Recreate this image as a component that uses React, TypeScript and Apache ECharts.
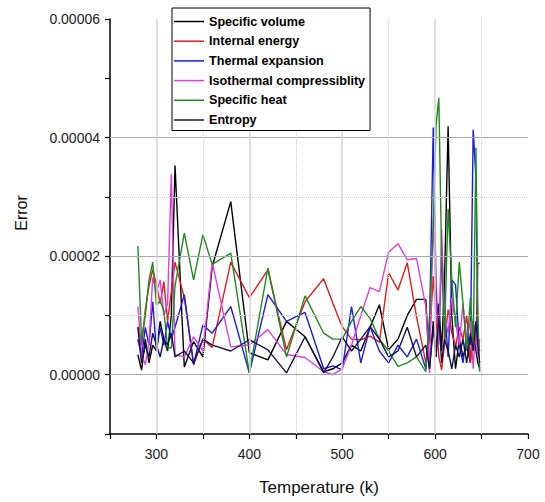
import React, { useEffect, useRef } from "react";
import * as echarts from "echarts";

// Temperature (K)
const temps = [280, 284, 288, 292, 296, 300, 304, 308, 312, 316, 320, 330, 340, 350, 360, 380, 400, 420, 440, 460, 480, 490, 500, 510, 520, 530, 540, 550, 560, 570, 580, 590, 594, 598, 601, 604, 607, 610, 614, 618, 622, 626, 630, 634, 638, 641, 644, 646, 648];

// Errors in units of 1e-5
const specificVolume = [0.34, 0.08, 0.6, 0.2, 0.5, 0.4, 0.9, 0.6, 0.4, 1.0, 3.53, 0.13, 0.56, 0.3, 1.82, 2.92, 0.37, 0.25, 0.9, 0.64, 0.05, 0.1, 0.2, 0.5, 0.4, 0.8, 1.18, 0.42, 0.6, 1.0, 1.27, 1.27, 0.1, 0.9, 0.3, 1.2, 0.4, 1.5, 4.19, 1.0, 0.1, 0.6, 0.3, 0.5, 0.2, 0.9, 0.4, 0.2, 0.1];
const internalEnergy = [0.81, 0.5, 1.1, 1.5, 1.77, 1.52, 1.2, 1.57, 0.9, 1.4, 1.9, 1.3, 0.17, 0.6, 0.46, 1.9, 1.3, 1.77, 0.42, 1.23, 1.62, 1.2, 0.81, 0.6, 0.59, 0.65, 0.55, 1.72, 1.43, 1.89, 0.98, 0.2, 0.6, 1.66, 0.98, 0.3, 0.08, 0.5, 1.1, 0.7, 0.48, 0.8, 0.6, 1.0, 0.2, 0.9, 0.5, 1.88, 1.88];
const thermalExpansion = [0.6, 0.3, 0.8, 0.5, 1.23, 0.4, 0.8, 0.5, 0.9, 0.6, 0.8, 1.35, 0.17, 0.84, 0.7, 1.15, 0.03, 1.35, 0.9, 1.05, 0.1, 0.15, 0.08, 1.15, 0.2, 0.81, 0.4, 0.2, 0.5, 0.3, 0.6, 0.1, 0.8, 4.17, 1.5, 0.6, 2.0, 1.2, 0.3, 1.6, 1.52, 0.5, 0.2, 0.7, 0.5, 4.13, 3.3, 0.6, 0.4];
const isothermalCompressibility = [1.15, 0.34, 0.17, 0.54, 1.64, 1.4, 1.6, 1.0, 1.2, 3.38, 0.34, 0.3, 0.64, 0.4, 1.9, 0.47, 0.5, 0.76, 0.34, 0.29, 0.05, 0.0, 0.1, 0.5, 1.0, 1.47, 1.4, 2.07, 2.21, 1.94, 1.96, 1.15, 0.03, 2.67, 1.2, 0.5, 2.45, 1.0, 0.7, 1.3, 0.9, 0.5, 1.2, 0.6, 0.9, 0.1, 0.9, 0.3, 0.6];
const specificHeat = [2.17, 0.56, 1.0, 1.6, 1.9, 1.18, 1.25, 1.07, 0.46, 0.45, 1.5, 2.39, 1.6, 2.36, 1.86, 2.05, 0.03, 1.8, 0.3, 1.33, 0.7, 0.6, 0.6, 0.9, 1.15, 0.95, 0.6, 0.4, 0.14, 0.2, 0.3, 0.05, 1.0, 2.5, 4.2, 4.67, 2.0, 0.6, 2.8, 1.6, 0.8, 1.9, 1.2, 0.4, 1.3, 0.5, 3.83, 1.0, 0.05];
const entropy = [0.8, 0.2, 0.5, 0.3, 0.7, 0.5, 0.3, 0.6, 0.5, 0.7, 0.3, 0.4, 0.2, 0.6, 0.5, 0.4, 0.59, 0.42, 0.03, 0.64, 0.03, 0.3, 0.64, 0.4, 0.6, 0.81, 0.6, 0.3, 0.4, 0.8, 0.3, 0.5, 0.1, 0.8, 0.3, 1.0, 0.2, 0.6, 0.4, 0.1, 0.5, 0.3, 0.6, 0.2, 0.7, 0.4, 0.9, 0.5, 0.2];

const seriesNames = ["Specific volume", "Internal energy", "Thermal expansion", "Isothermal compressiblity", "Specific heat", "Entropy"];
const seriesValues = [specificVolume, internalEnergy, thermalExpansion, isothermalCompressibility, specificHeat, entropy];
const seriesColors = ["#000000", "#e01c1c", "#1a1ae0", "#e03ce0", "#1e8a1e", "#14144a"];

const majorY = [0, 2, 4];
const minorY = [1, 3];
const majorX = [300, 400, 500, 600];
const minorX = [350, 450, 550, 650];

const FONT = "'Liberation Sans', Arial, Helvetica, sans-serif";

export default function App() {
  const ref = useRef<HTMLDivElement>(null);
  useEffect(() => {
    if (!ref.current) return;
    const chart = echarts.init(ref.current, null, { renderer: "svg" });
    const gridLines: any[] = [
      ...majorY.map((v) => ({ yAxis: v, lineStyle: { color: "#a8a8a8", width: 1, type: "solid" } })),
      ...minorY.map((v) => ({ yAxis: v, lineStyle: { color: "#cfcfcf", width: 1, type: "dotted" } })),
      ...majorX.map((v) => ({ xAxis: v, lineStyle: { color: "#d4d4d4", width: 1.5, type: "solid" } })),
      ...minorX.map((v) => ({ xAxis: v, lineStyle: { color: "#cfcfcf", width: 1, type: "dotted" } })),
    ];
    const option: any = {
      animation: false,
      grid: { left: 110, right: 17, top: 19, bottom: 68, containLabel: false },
      legend: {
        data: seriesNames,
        orient: "vertical",
        left: 172,
        top: 8,
        z: 10,
        padding: [6.5, 5, 3.5, 2],
        itemWidth: 30,
        itemHeight: 1.5,
        itemGap: 5.7,
        icon: "rect",
        backgroundColor: "#ffffff",
        borderColor: "#000000",
        borderWidth: 1,
        textStyle: { fontFamily: FONT, fontWeight: "bold", fontSize: 12.6, lineHeight: 14, color: "#000" },
      },
      xAxis: {
        type: "value",
        min: 250,
        max: 700,
        interval: 50,
        name: "Temperature (k)",
        nameLocation: "middle",
        nameGap: 45,
        nameTextStyle: { fontFamily: FONT, fontSize: 17, color: "#111" },
        axisLine: { show: true, onZero: false, lineStyle: { color: "#000", width: 1.5 } },
        axisTick: { show: true, length: 5, lineStyle: { color: "#000", width: 1.2 } },
        axisLabel: {
          margin: 13,
          fontFamily: FONT,
          fontSize: 14,
          color: "#222",
          formatter: (v: number) => (Math.round(v) % 100 === 0 ? String(Math.round(v)) : ""),
        },
        splitLine: { show: false },
      },
      yAxis: {
        type: "value",
        min: -1,
        max: 6,
        interval: 1,
        axisLine: { show: true, onZero: false, lineStyle: { color: "#000", width: 1.5 } },
        axisTick: { show: true, length: 5, lineStyle: { color: "#000", width: 1.2 } },
        axisLabel: {
          margin: 10,
          fontFamily: FONT,
          fontSize: 14,
          color: "#222",
          formatter: (v: number) => {
            const r = Math.round(v);
            return r >= 0 && r % 2 === 0 ? (r * 1e-5).toFixed(5) : "";
          },
        },
        splitLine: { show: false },
      },
      graphic: [
        {
          type: "text",
          x: 21.5,
          y: 213,
          rotation: Math.PI / 2,
          style: {
            text: "Error",
            fontFamily: FONT,
            fontSize: 16,
            fill: "#111",
            textAlign: "center",
            textVerticalAlign: "middle",
          },
        },
      ],
      series: [
        {
          name: "__grid",
          type: "line",
          data: [],
          z: 1,
          silent: true,
          markLine: {
            silent: true,
            symbol: ["none", "none"],
            label: { show: false },
            emphasis: { disabled: true },
            data: gridLines,
          },
        },
        ...seriesNames.map((name, i) => ({
          name,
          type: "line",
          z: 3,
          symbol: "none",
          showSymbol: false,
          color: seriesColors[i],
          lineStyle: { color: seriesColors[i], width: 1.4 },
          data: temps.map((t, j) => [t, seriesValues[i][j]]),
        })),
      ],
    };
    chart.setOption(option);
    return () => chart.dispose();
  }, []);
  return (
    <div
      ref={ref}
      style={{ position: "fixed", left: 0, top: 0, width: 545, height: 502, background: "#fff" }}
    />
  );
}
